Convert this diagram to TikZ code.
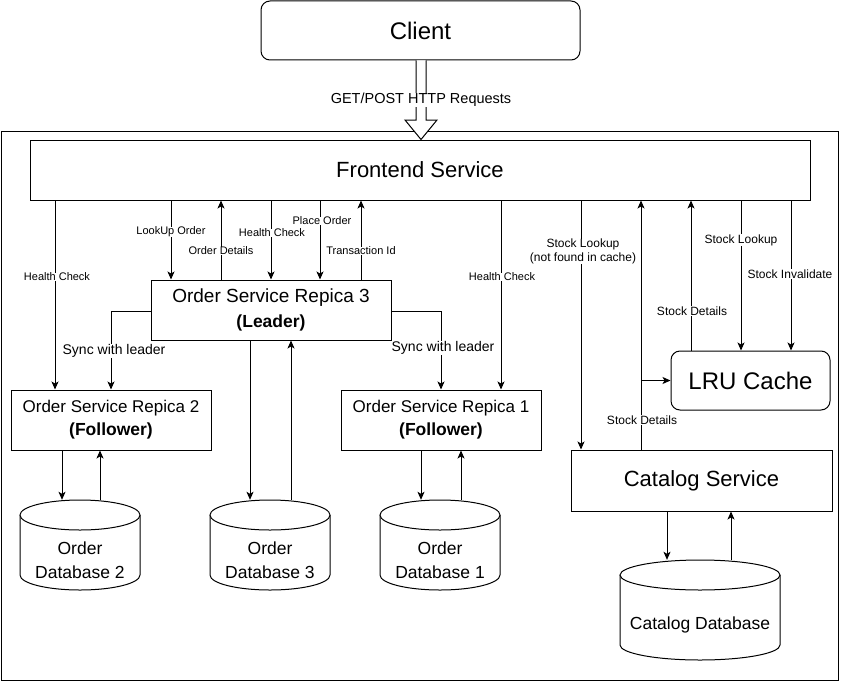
\documentclass[tikz,border=0pt]{standalone}
\usepackage{fontspec}
\setmainfont{Liberation Sans}
\usetikzlibrary{arrows.meta,calc}
\tikzset{
  box/.style={draw, line width=1pt, align=center, inner sep=0pt, fill=white},
  rbox/.style={box, rounded corners=9pt},
  arr/.style={line width=1pt, -{Stealth[length=8pt,width=7pt,inset=2pt]}},
  lbl/.style={font=\fontsize{11}{13}\selectfont, fill=white, inner sep=0.3pt, align=center},
  slbl/.style={font=\fontsize{12}{14}\selectfont, fill=white, inner sep=0.3pt, align=center},
  synclbl/.style={font=\fontsize{14}{16}\selectfont, fill=white, inner sep=0.3pt, align=center},
  dbtxt/.style={align=center, inner sep=0pt, font=\fontsize{17.5}{24}\selectfont},
  ghost/.style={inner sep=0pt, draw=none},
}
\newcommand\dbcyl[6]{%
  \draw[line width=1pt, fill=white] (#2,#3+15) -- (#2,#5-15)
     arc[start angle=180, end angle=0, x radius={(#4-#2)/2}, y radius=15] -- (#4,#3+15);
  \draw[line width=1pt, fill=white] ({(#2+#4)/2},#3+15) ellipse [x radius={(#4-#2)/2}, y radius=15];
  \node[ghost, minimum width={(#4-#2)*1pt}, minimum height={(#5-#3)*1pt}] (#1) at ({(#2+#4)/2},{(#3+#5)/2}) {};
  \node[dbtxt] (#1-t) at ({(#2+#4)/2},{(#3+30+#5)/2}) {#6};
}
\begin{document}
\begin{tikzpicture}[x=1pt,y=-1pt]
\useasboundingbox (0,0) rectangle (842,682);
\fill[white] (0,0) rectangle (842,682);

% outer container
\draw[line width=1pt] (1,131) rectangle (838,680);

% nodes
\node[rbox, minimum width=319pt, minimum height=59pt, font=\fontsize{24}{28}\selectfont] (client) at (420.5,30.5) {Client};
\node[box, minimum width=780pt, minimum height=60pt, font=\fontsize{22}{26}\selectfont] (fe) at (420,170) {Frontend Service};
\node[box, minimum width=240pt, minimum height=60pt] (r3) at (271,310)
  {{\fontsize{19}{22}\selectfont Order Service Repica 3}\\[7pt]{\fontsize{17.5}{20}\selectfont\bfseries (Leader)}};
\node[box, minimum width=200pt, minimum height=60pt] (r2) at (111,420)
  {{\fontsize{17}{20}\selectfont Order Service Repica 2}\\[6pt]{\fontsize{17.5}{20}\selectfont\bfseries (Follower)}};
\node[box, minimum width=200pt, minimum height=60pt] (r1) at (441,420)
  {{\fontsize{17}{20}\selectfont Order Service Repica 1}\\[6pt]{\fontsize{17.5}{20}\selectfont\bfseries (Follower)}};
\node[rbox, minimum width=159pt, minimum height=59pt, font=\fontsize{24}{28}\selectfont] (lru) at (750.5,380.5) {LRU Cache};
\node[box, minimum width=261pt, minimum height=61pt, font=\fontsize{22}{26}\selectfont] (cat) at (701.5,480.5) {Catalog Service};

\dbcyl{db2}{20}{500}{140}{590}{Order\\Database 2}
\dbcyl{db3}{210}{500}{330}{590}{Order\\Database 3}
\dbcyl{db1}{380}{500}{500}{590}{Order\\Database 1}
\dbcyl{cdb}{620}{560}{780}{660}{Catalog Database}

% hollow arrow client -> frontend
\draw[line width=1pt, fill=white] (416,0 |- client.south) -- (416,120) -- (405,120) -- (421,0 |- fe.north) -- (437,120) -- (426,120) -- (426,0 |- client.south);
\node[font=\fontsize{14.5}{17}\selectfont, fill=white, inner sep=0.5pt] (req) at (421,100) {GET/POST HTTP Requests};

% frontend <-> order services
\draw[arr] (55,0 |- fe.south) -- (55,0 |- r2.north);
\draw[arr] (171,0 |- fe.south) -- (171,0 |- r3.north);
\draw[arr] (221,0 |- r3.north) -- (221,0 |- fe.south);
\draw[arr] (271,0 |- fe.south) -- (271,0 |- r3.north);
\draw[arr] (320,0 |- fe.south) -- (320,0 |- r3.north);
\draw[arr] (361,0 |- r3.north) -- (361,0 |- fe.south);
\draw[arr] (501,0 |- fe.south) -- (501,0 |- r1.north);

% sync
\draw[arr] (r3.west |- 0,311) -| (111,0 |- r2.north);
\draw[arr] (r3.east |- 0,311) -| (441,0 |- r1.north);

% services <-> databases
\draw[arr] (250,0 |- r3.south) -- (250,0 |- db3.north);
\draw[arr] (291,0 |- db3.north) -- (291,0 |- r3.south);
\draw[arr] (62,0 |- r2.south) -- (62,0 |- db2.north);
\draw[arr] (100,0 |- db2.north) -- (100,0 |- r2.south);
\draw[arr] (421,0 |- r1.south) -- (421,0 |- db1.north);
\draw[arr] (461,0 |- db1.north) -- (461,0 |- r1.south);
\draw[arr] (667,0 |- cat.south) -- (667,0 |- cdb.north);
\draw[arr] (731,0 |- cdb.north) -- (731,0 |- cat.south);

% catalog / cache
\draw[arr] (581,0 |- fe.south) -- (581,0 |- cat.north);
\draw[arr] (641,0 |- cat.north) -- (641,0 |- fe.south);
\coordinate (junc) at (641,0 |- lru.west);
\draw[arr] (junc) -- (lru.west);
\draw[arr] (691,0 |- lru.north) -- (691,0 |- fe.south);
\draw[arr] (741,0 |- fe.south) -- (741,0 |- lru.north);
\draw[arr] (791,0 |- fe.south) -- (791,0 |- lru.north);

% labels
\node[lbl] (l1) at (57,277) {Health Check};
\node[lbl] (l2) at (171,232) {LookUp Order};
\node[lbl] (l3) at (221,251) {Order Details};
\node[lbl] (l4) at (272,233) {Health Check};
\node[lbl] (l5) at (322,221) {Place Order};
\node[lbl] (l6) at (361,251) {Transaction Id};
\node[lbl] (l7) at (502,277) {Health Check};
\node[synclbl] (s1) at (114,351) {Sync with leader};
\node[synclbl] (s2) at (443,348) {Sync with leader};
\node[slbl] (l8) at (583,251.5) {Stock Lookup\\(not found in cache)};
\node[slbl] (l9) at (642,420) {Stock Details};
\node[slbl] (l10) at (692,311) {Stock Details};
\node[slbl] (l11) at (741,240) {Stock Lookup};
\node[slbl] (l12) at (790,274) {Stock Invalidate};
\end{tikzpicture}
\end{document}
